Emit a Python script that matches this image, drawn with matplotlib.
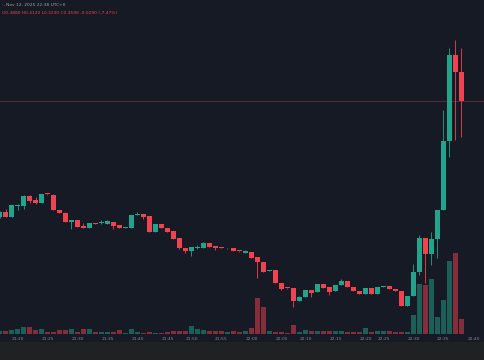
import matplotlib.pyplot as plt
from matplotlib.patches import Rectangle

# candles (bar index -1 .. 76), 1-minute bars
opens = [0.243, 0.248, 0.243, 0.2545, 0.254, 0.264, 0.260, 0.257, 0.2663, 0.2655,
         0.250, 0.2475, 0.238, 0.240, 0.234, 0.232, 0.237, 0.237, 0.236, 0.238,
         0.235, 0.2325, 0.232, 0.245, 0.246, 0.244, 0.228, 0.236, 0.232, 0.229,
         0.222, 0.212, 0.209, 0.2125, 0.212, 0.217, 0.214, 0.213, 0.2117, 0.212,
         0.2092, 0.2075, 0.208, 0.203, 0.198, 0.189, 0.190, 0.177, 0.172, 0.172,
         0.159, 0.163, 0.170, 0.168, 0.176, 0.173, 0.169, 0.175, 0.179, 0.173,
         0.169, 0.166, 0.172, 0.166, 0.1735, 0.174, 0.171, 0.169, 0.154, 0.164,
         0.188, 0.222, 0.206, 0.221, 0.250, 0.319, 0.405, 0.388]
highs = [0.249, 0.251, 0.255, 0.256, 0.265, 0.265, 0.263, 0.2665, 0.2665, 0.266,
         0.250, 0.248, 0.2405, 0.240, 0.2375, 0.237, 0.2375, 0.240, 0.240, 0.238,
         0.2355, 0.233, 0.245, 0.248, 0.246, 0.244, 0.236, 0.236, 0.232, 0.229,
         0.222, 0.212, 0.213, 0.215, 0.218, 0.217, 0.214, 0.213, 0.2125, 0.212,
         0.2095, 0.210, 0.208, 0.203, 0.198, 0.190, 0.190, 0.177, 0.172, 0.172,
         0.164, 0.170, 0.170, 0.176, 0.176, 0.173, 0.175, 0.181, 0.179, 0.173,
         0.169, 0.172, 0.172, 0.173, 0.1745, 0.174, 0.171, 0.169, 0.164, 0.196,
         0.225, 0.222, 0.228, 0.250, 0.350, 0.412, 0.420, 0.412]
lows = [0.242, 0.243, 0.243, 0.250, 0.251, 0.257, 0.2565, 0.257, 0.265, 0.250,
        0.247, 0.238, 0.231, 0.233, 0.232, 0.232, 0.236, 0.2365, 0.236, 0.231,
        0.232, 0.232, 0.232, 0.245, 0.241, 0.228, 0.228, 0.232, 0.228, 0.221,
        0.2115, 0.207, 0.204, 0.211, 0.212, 0.213, 0.210, 0.212, 0.2115, 0.209,
        0.2082, 0.207, 0.202, 0.182, 0.188, 0.189, 0.177, 0.170, 0.171, 0.153,
        0.159, 0.163, 0.163, 0.168, 0.172, 0.165, 0.169, 0.175, 0.173, 0.169,
        0.166, 0.166, 0.166, 0.166, 0.173, 0.171, 0.169, 0.154, 0.154, 0.164,
        0.185, 0.177, 0.195, 0.202, 0.250, 0.303, 0.320, 0.323]
closes = [0.248, 0.243, 0.255, 0.255, 0.264, 0.259, 0.257, 0.266, 0.2655, 0.250,
          0.247, 0.238, 0.240, 0.233, 0.232, 0.237, 0.236, 0.238, 0.239, 0.234,
          0.232, 0.233, 0.245, 0.246, 0.243, 0.228, 0.236, 0.232, 0.228, 0.221,
          0.212, 0.209, 0.213, 0.213, 0.217, 0.213, 0.212, 0.212, 0.2122, 0.209,
          0.2085, 0.209, 0.202, 0.198, 0.188, 0.190, 0.177, 0.171, 0.1715, 0.159,
          0.163, 0.170, 0.167, 0.176, 0.172, 0.168, 0.175, 0.179, 0.173, 0.169,
          0.166, 0.172, 0.166, 0.173, 0.174, 0.171, 0.169, 0.154, 0.164, 0.188,
          0.222, 0.206, 0.221, 0.250, 0.319, 0.405, 0.388, 0.359]
volumes = [3, 3, 4, 5, 7, 7, 4, 5, 2, 2, 4, 4, 5, 2, 5, 5, 2, 2, 2, 2,
           4, 1, 5, 2, 1, 2, 1, 1, 2, 3, 3, 3, 8, 5, 4, 3, 3, 3, 2, 3,
           2, 3, 6, 36, 27, 3, 2, 2, 1, 9, 2, 4, 3, 3, 3, 3, 3, 3, 2, 2,
           2, 6, 2, 3, 3, 3, 2, 2, 2, 19, 50, 49, 55, 17, 34, 73, 81, 15]

tick_idx = [2, 7, 12, 17, 22, 27, 31, 36, 41, 46, 50, 55, 60, 63, 68, 73, 78]
tick_labels = ["21:20", "21:25", "21:30", "21:35", "21:40", "21:45", "21:50", "21:55", "22:00",
               "22:05", "22:10", "22:15", "22:20", "22:25", "22:30", "22:35", "22:40"]

bg = "#161a25"
up = "#22a38c"
down = "#f0424f"

fig = plt.figure(figsize=(4.85, 3.6), dpi=100, facecolor=bg)
fig.patches.append(Rectangle((0, 0), 1, 18 / 360, transform=fig.transFigure,
                             facecolor="#202122", edgecolor="none"))

ax = fig.add_axes([0, 26 / 360, 1, 334 / 360])
ax.set_facecolor(bg)
vax = ax.twinx()
ax.set_zorder(2)
ax.patch.set_visible(False)

x = list(range(-1, len(opens) - 1))
colors = [up if c >= o else down for o, c in zip(opens, closes)]

# volume
vax.bar(x, volumes, width=0.92, color=colors, alpha=0.5, linewidth=0)
vax.set_ylim(0, 334)

# candles
ax.vlines(x, lows, highs, colors=colors, linewidth=0.6)
heights = [c - o if abs(c - o) > 0.0008 else 0.0008 for o, c in zip(opens, closes)]
ax.bar(x, heights, bottom=opens, width=0.78, color=colors, linewidth=0)

# last price line
ax.axhline(closes[-1], color="#6a2a35", linewidth=0.6, zorder=0)

ax.set_ylim(0.126, 0.460)
ax.set_xlim(-0.917, 79.92)
for a in (ax, vax):
    for s in a.spines.values():
        s.set_visible(False)
    a.set_yticks([])
ax.set_xticks(tick_idx)
ax.set_xticklabels(tick_labels)
ax.tick_params(axis="x", length=0, pad=2, labelsize=3.2, labelcolor="#868993")

chg = closes[-1] - closes[-2]
fig.text(0.004, 1 - 4.5 / 360, "·, Nov 12, 2025 22:38 UTC+0", fontsize=3.2,
         color="#a0a3ab", va="center")
fig.text(0.004, 1 - 12.5 / 360,
         f"O{opens[-1]:.4f} H{highs[-1]:.4f} L{lows[-1]:.4f} C{closes[-1]:.4f} "
         f"{chg:+.4f} ({chg / closes[-2] * 100:+.2f}%)",
         fontsize=3.2, color=down, va="center")

fig.savefig("out.png", dpi=100, facecolor=bg)
